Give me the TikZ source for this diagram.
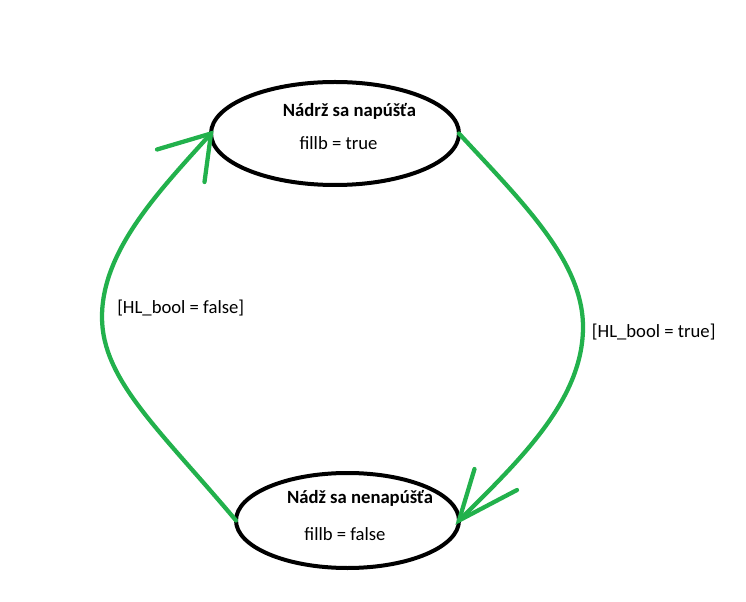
\documentclass[tikz,border=0pt]{standalone}
\usepackage{fontspec}
\setmainfont{Carlito}
\definecolor{paintgreen}{HTML}{22B14C}
\tikzset{
  state/.style={draw=black, line width=3pt, ellipse, inner sep=0pt},
  trans/.style={draw=paintgreen, line width=3.2pt, line cap=round},
  lbl/.style={font=\fontsize{14}{16}\selectfont, inner sep=0pt, text=black},
  title/.style={font=\fontsize{14}{16}\selectfont\bfseries, inner sep=0pt, text=black}
}
\usetikzlibrary{shapes.geometric}
\begin{document}
\begin{tikzpicture}[x=0.75pt,y=-0.75pt]
\useasboundingbox (0,0) rectangle (746,602);
% states
\draw[black, line width=3pt] (335,133.5) ellipse [x radius=124, y radius=51.5];
\coordinate (topW) at (211,133.5);
\coordinate (topE) at (459,133.5);
\draw[black, line width=3pt] (347.5,520.5) ellipse [x radius=111.5, y radius=47.5];
\coordinate (botW) at (236,520.5);
\coordinate (botE) at (459,520.5);
\node[title] (t1) at (349.5,111) {Nádrž sa napúšťa};
\node[lbl] (f1) at (338.5,143) {fillb = true};
\node[title] (t2) at (360,498) {Nádž sa nenapúšťa};
\node[lbl] (f2) at (345,534) {fillb = false};
% transitions
\coordinate (lmid) at (102,317);
\coordinate (rmid) at (583,327);
\draw[trans] (botW) .. controls (160,430) and (102,380) .. (lmid)
                    .. controls (102,250) and (160,190) .. (topW);
\coordinate (la1) at (157,149.5);
\coordinate (la2) at (204.5,182);
\draw[trans] (la1) -- (topW) -- (la2);
\draw[trans] (topE) .. controls (520,200) and (583,260) .. (rmid)
                    .. controls (583,400) and (520,460) .. (botE);
\coordinate (ra1) at (474.5,469);
\coordinate (ra2) at (517,490);
\draw[trans] (ra1) -- (botE) -- (ra2);
\node[lbl] (c1) at (180.7,308) {[HL\_bool = false]};
\node[lbl] (c2) at (653.7,332) {[HL\_bool = true]};
\end{tikzpicture}
\end{document}
